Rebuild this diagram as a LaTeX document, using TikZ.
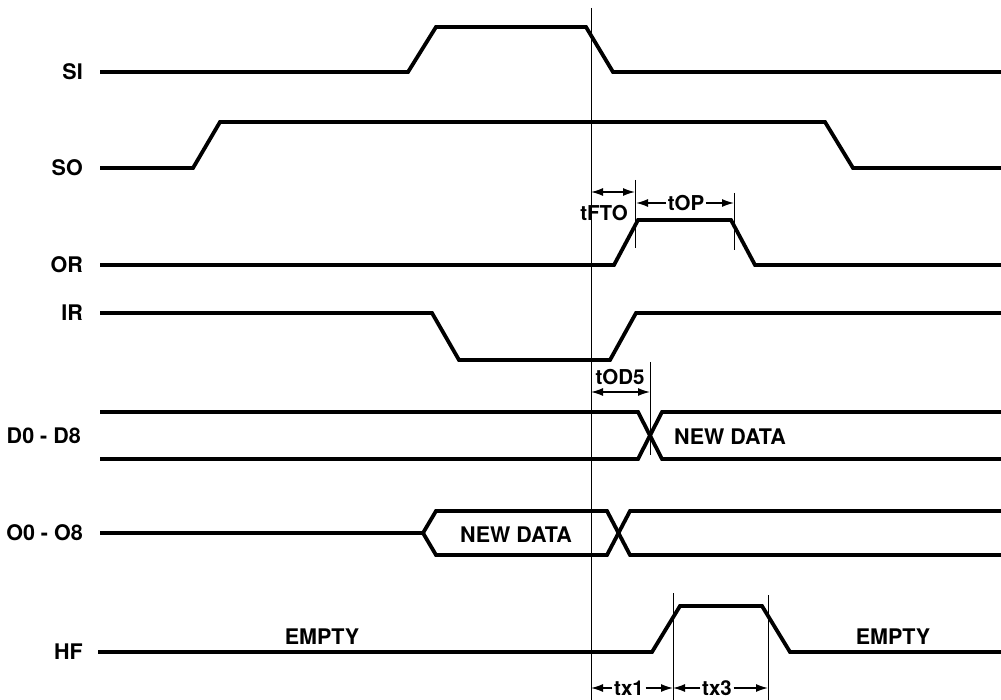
\documentclass[tikz,border=0pt]{standalone}
\usepackage{fontspec}
\setmainfont{TeX Gyre Heros}
\usetikzlibrary{arrows.meta}
\begin{document}
\begin{tikzpicture}[x=1pt,y=-1pt,
  sig/.style={line width=3.8pt, line join=miter, line cap=butt},
  lbl/.style={font=\fontsize{21.5}{25}\selectfont\bfseries, anchor=east, inner sep=0pt},
  txt/.style={font=\fontsize{21.5}{25}\selectfont\bfseries, inner sep=0pt},
  tlbl/.style={font=\fontsize{20.5}{24}\selectfont\bfseries, inner sep=1.5pt},
  tick/.style={line width=0.8pt},
  dimarrow/.style={line width=1.4pt, -{Latex[length=12pt,width=8pt]}},
  dimboth/.style={line width=1.4pt, {Latex[length=12pt,width=8pt]}-{Latex[length=12pt,width=8pt]}}]
\useasboundingbox (0,0) rectangle (1001,700);

% signal names
\node[lbl] (nSI) at (83,72) {SI};
\node[lbl] (nSO) at (83,168) {SO};
\node[lbl] (nOR) at (83,265) {OR};
\node[lbl] (nIR) at (83,313) {IR};
\node[lbl] (nD) at (81,436) {D0 - D8};
\node[lbl] (nO) at (83,533) {O0 - O8};
\node[lbl] (nHF) at (83,652) {HF};

% reference line
\coordinate (refT) at (591,8);
\coordinate (refB) at (591,700);
\draw[tick] (refT) -- (refB);

% waveforms
\draw[sig] (100,72) -- (408,72) -- (436,27) -- (586,27) -- (613,72) -- (1001,72);
\draw[sig] (100,168) -- (193,168) -- (220,122) -- (825,122) -- (853,168) -- (1001,168);
\draw[sig] (100,265) -- (614,265) -- (638,220) -- (731,220) -- (755,265) -- (1001,265);
\draw[sig] (100,313) -- (432,313) -- (459,360) -- (610,360) -- (636,313) -- (1001,313);
\draw[sig] (100,412) -- (638,412) -- (662,459) -- (1001,459);
\draw[sig] (100,459) -- (638,459) -- (662,412) -- (1001,412);
\draw[sig] (100,533) -- (423,533) -- (436,511) -- (607,511) -- (630,555) -- (1001,555);
\draw[sig] (423,533) -- (436,555) -- (607,555) -- (630,511) -- (1001,511);
\draw[sig] (98,652) -- (652,652) -- (680,606) -- (762,606) -- (790,652) -- (1001,652);

% data labels
\node[txt] (dNew) at (730,437) {NEW DATA};
\node[txt] (oNew) at (516,535) {NEW DATA};
\node[txt] (eL) at (322,637) {EMPTY};
\node[txt] (eR) at (893,637) {EMPTY};

% timing ticks
\draw[tick] (635,180) -- (635,248);
\draw[tick] (734,193) -- (734,250);
\draw[tick] (650,362) -- (650,455);
\draw[tick] (673,593) -- (673,700);
\draw[tick] (768,595) -- (768,700);

% tFTO
\coordinate (fA) at (591,192);
\coordinate (fB) at (635,192);
\draw[dimboth] (fA) -- (fB);
\node[tlbl] (tFTO) at (604,213) {tFTO};

% tOP
\node[tlbl] (tOP) at (686,203) {tOP};
\coordinate (pA) at (636,203);
\coordinate (pB) at (734,203);
\draw[dimarrow] (tOP.west) -- (pA);
\draw[dimarrow] (tOP.east) -- (pB);

% tOD5
\node[tlbl] (tOD) at (620,377) {tOD5};
\coordinate (dA) at (591,392);
\coordinate (dB) at (650,392);
\draw[dimboth] (dA) -- (dB);

% tx1, tx3
\node[tlbl] (tx1) at (629,688) {tx1};
\node[tlbl] (tx3) at (717,688) {tx3};
\coordinate (xA) at (591,688);
\coordinate (xB) at (673,688);
\coordinate (xC) at (768,688);
\draw[dimarrow] (tx1.west) -- (xA);
\draw[dimarrow] (tx1.east) -- (xB);
\draw[dimarrow] (tx3.west) -- (xB);
\draw[dimarrow] (tx3.east) -- (xC);
\end{tikzpicture}
\end{document}
